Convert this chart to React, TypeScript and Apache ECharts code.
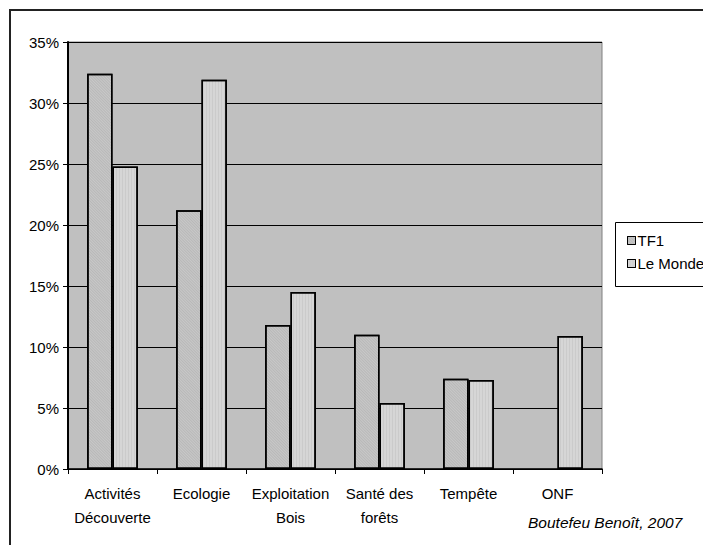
import React, { useEffect, useRef } from 'react';
import * as echarts from 'echarts';

const categories = ['Activités\nDécouverte', 'Ecologie', 'Exploitation\nBois', 'Santé des\nforêts', 'Tempête', 'ONF'];
const seriesNames = ['TF1', 'Le Monde'];
const tf1Values: (number | null)[] = [32.4, 21.2, 11.8, 11.0, 7.4, null];
const leMondeValues: number[] = [24.8, 31.9, 14.5, 5.4, 7.3, 10.9];
const yMin = 0;
const yMax = 35;
const yInterval = 5;
const credit = 'Boutefeu Benoît, 2007';

const FONT = '"Liberation Sans", Arial, sans-serif';

export default function App() {
  const ref = useRef<HTMLDivElement>(null);
  useEffect(() => {
    if (!ref.current) return;
    const chart = echarts.init(ref.current, null, { renderer: 'svg' });
    chart.setOption({
      animation: false,
      backgroundColor: '#ffffff',
      textStyle: { fontFamily: FONT },
      grid: {
        left: 68,
        top: 42,
        width: 534,
        height: 427,
        show: true,
        backgroundColor: '#c0c0c0',
        borderColor: '#808080',
        borderWidth: 1,
      },
      legend: {
        orient: 'vertical',
        left: 622,
        top: 228,
        itemWidth: 8,
        itemHeight: 8,
        itemGap: 8,
        icon: 'rect',
        data: seriesNames,
        itemStyle: { borderColor: '#000', borderWidth: 1 },
        textStyle: { fontFamily: FONT, fontSize: 15, color: '#000', lineHeight: 15, padding: [0, 0, 0, -3] },
      },
      xAxis: {
        type: 'category',
        data: categories,
        boundaryGap: true,
        axisLine: { lineStyle: { color: '#000', width: 1.5 } },
        axisTick: { show: true, length: 5, lineStyle: { color: '#000' } },
        axisLabel: {
          color: '#000',
          fontFamily: FONT,
          fontSize: 15,
          lineHeight: 24.5,
          margin: 12,
          interval: 0,
        },
      },
      yAxis: {
        type: 'value',
        min: yMin,
        max: yMax,
        interval: yInterval,
        axisLine: { show: true, lineStyle: { color: '#000', width: 2 } },
        axisTick: { show: true, length: 5, lineStyle: { color: '#000' } },
        axisLabel: {
          color: '#000',
          fontFamily: FONT,
          fontSize: 15,
          margin: 9,
          formatter: '{value}%',
        },
        splitLine: { show: true, lineStyle: { color: '#000', width: 1 } },
      },
      series: [
        {
          name: seriesNames[0],
          type: 'bar',
          data: tf1Values,
          barGap: '0%',
          barCategoryGap: '43%',
          itemStyle: {
            color: '#c8c8c8',
            borderColor: '#000',
            borderWidth: 1.5,
            decal: {
              symbol: 'rect',
              symbolSize: 1,
              color: 'rgba(0,0,0,0.08)',
              dashArrayX: [1, 0],
              dashArrayY: [1, 1],
              rotation: Math.PI / 4,
            },
          },
        },
        {
          name: seriesNames[1],
          type: 'bar',
          data: leMondeValues,
          itemStyle: {
            color: '#d6d6d6',
            borderColor: '#000',
            borderWidth: 1.5,
            decal: {
              symbol: 'rect',
              symbolSize: 1,
              color: 'rgba(0,0,0,0.05)',
              dashArrayX: [1, 0],
              dashArrayY: [1, 2],
              rotation: Math.PI / 2,
            },
          },
        },
      ],
      graphic: [
        {
          type: 'rect',
          shape: { x: 10, y: 10, width: 760, height: 600 },
          style: { fill: 'none', stroke: '#222', lineWidth: 2 },
          silent: true,
          z: -1,
        },
        {
          type: 'rect',
          shape: { x: 615.5, y: 222.5, width: 200, height: 64 },
          style: { fill: 'none', stroke: '#000', lineWidth: 1 },
          silent: true,
        },
        {
          type: 'text',
          left: 528,
          top: 514,
          style: {
            text: credit,
            fill: '#000',
            font: `italic 15.5px ${FONT}`,
          },
          silent: true,
        },
      ],
    });
    return () => chart.dispose();
  }, []);
  return <div ref={ref} style={{ position: 'fixed', left: 0, top: 0, width: 703, height: 545 }} />;
}
